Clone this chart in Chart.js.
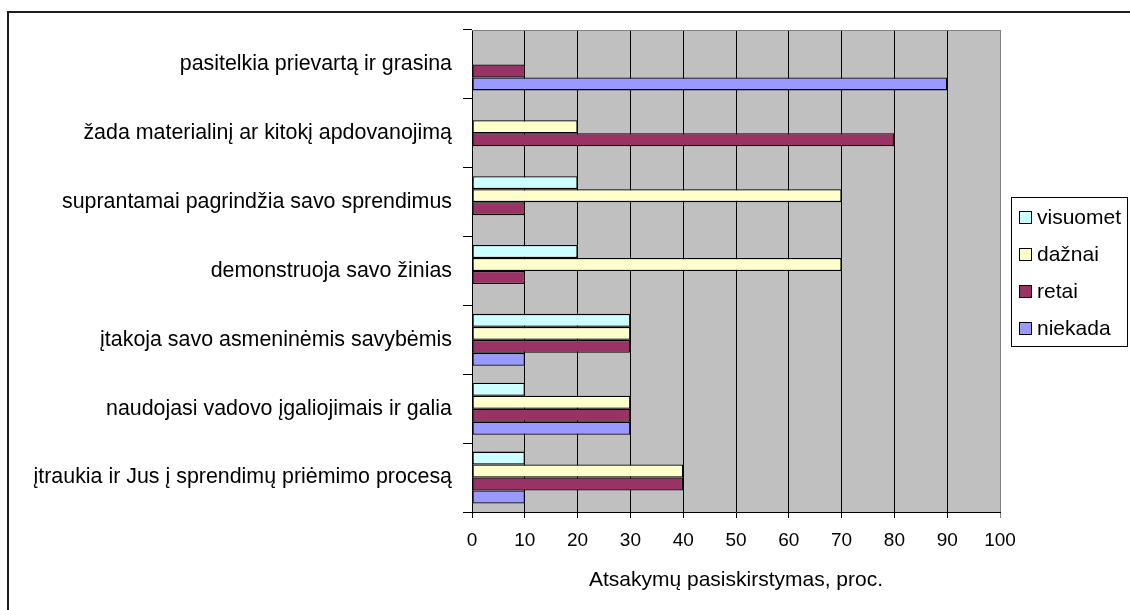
<!DOCTYPE html>
<html lang="lt">
<head>
<meta charset="utf-8">
<title>Atsakymų pasiskirstymas</title>
<script src="https://cdn.jsdelivr.net/npm/chart.js@4.4.1/dist/chart.umd.min.js"></script>
<style>
  html, body { margin: 0; padding: 0; background: #fff; overflow: hidden; }
  #wrap { position: relative; width: 1130px; height: 610px; }
  #frame {
    position: absolute; left: 7px; top: 11px;
    width: 1300px; height: 800px;
    border: 2px solid #1e1e1e;
  }
  #chart { position: absolute; left: 0; top: 0; }
</style>
</head>
<body>
<div id="wrap">
  <div id="frame"></div>
  <canvas id="chart" width="1130" height="610"></canvas>
</div>
<script>
  /* =========================
     DATA
  ========================= */
  const categories = [
    "pasitelkia prievartą ir grasina",
    "žada materialinį ar kitokį apdovanojimą",
    "suprantamai pagrindžia savo sprendimus",
    "demonstruoja savo žinias",
    "įtakoja savo asmeninėmis savybėmis",
    "naudojasi vadovo įgaliojimais ir galia",
    "įtraukia ir Jus į sprendimų priėmimo procesą"
  ];

  const visuomet = [0, 0, 20, 20, 30, 10, 10];
  const daznai   = [0, 20, 70, 70, 30, 30, 40];
  const retai    = [10, 80, 10, 10, 30, 30, 40];
  const niekada  = [90, 0, 0, 0, 10, 30, 10];

  const xTicks = [0, 10, 20, 30, 40, 50, 60, 70, 80, 90, 100];
  const axisTitle = "Atsakymų pasiskirstymas, proc.";

  /* =========================
     STYLE
  ========================= */
  const FONT = "'Liberation Sans', Arial, sans-serif";
  const SERIES = [
    { label: "visuomet", data: visuomet, color: "#CCFFFF" },
    { label: "dažnai",   data: daznai,   color: "#FFFFCC" },
    { label: "retai",    data: retai,    color: "#993366" },
    { label: "niekada",  data: niekada,  color: "#9999FF" }
  ];

  Chart.defaults.font.family = FONT;
  Chart.defaults.font.size = 21;
  Chart.defaults.color = "#000";

  // grey plot background + grey top edge
  const plotBackground = {
    id: "plotBackground",
    beforeDraw(chart) {
      const { ctx, chartArea: a } = chart;
      ctx.save();
      ctx.fillStyle = "#C0C0C0";
      ctx.fillRect(a.left, a.top, a.right - a.left, a.bottom - a.top);
      ctx.restore();
    },
    afterDraw(chart) {
      const { ctx, chartArea: a } = chart;
      ctx.save();
      ctx.strokeStyle = "#808080";
      ctx.lineWidth = 1;
      ctx.beginPath();
      ctx.moveTo(a.left, Math.round(a.top) + 0.5);
      ctx.lineTo(a.right, Math.round(a.top) + 0.5);
      ctx.stroke();
      ctx.restore();
    }
  };

  // boxed legend on the right
  const boxLegend = {
    id: "boxLegend",
    afterDraw(chart) {
      const ctx = chart.ctx;
      const box = { x: 1011, y: 197, w: 116, h: 149 };
      ctx.save();
      ctx.fillStyle = "#fff";
      ctx.fillRect(box.x, box.y, box.w, box.h);
      ctx.strokeStyle = "#000";
      ctx.lineWidth = 1;
      ctx.strokeRect(box.x + 0.5, box.y + 0.5, box.w, box.h);

      ctx.font = "21px " + FONT;
      ctx.textBaseline = "middle";
      chart.data.datasets.forEach((ds, i) => {
        const cy = 217 + i * 37;
        ctx.fillStyle = ds.backgroundColor;
        ctx.fillRect(1019, cy - 6, 12, 12);
        ctx.strokeStyle = "#000";
        ctx.strokeRect(1019.5, cy - 5.5, 12, 12);
        ctx.fillStyle = "#000";
        ctx.fillText(ds.label, 1037, cy + 1);
      });
      ctx.restore();
    }
  };

  /* =========================
     CHART
  ========================= */
  const ctx = document.getElementById("chart").getContext("2d");

  new Chart(ctx, {
    type: "bar",
    data: {
      labels: categories,
      datasets: SERIES.map(s => ({
        label: s.label,
        data: s.data,
        backgroundColor: s.color,
        borderColor: "#000",
        borderWidth: 1.3,
        borderSkipped: false,
        categoryPercentage: 0.755,
        barPercentage: 1.0
      }))
    },
    options: {
      indexAxis: "y",
      responsive: false,
      animation: false,
      devicePixelRatio: 1,
      layout: { padding: { left: 0, right: 130, top: 30, bottom: 0 } },
      plugins: {
        legend: { display: false },
        tooltip: { enabled: false }
      },
      scales: {
        x: {
          min: 0,
          max: 100,
          afterBuildTicks: scale => {
            scale.ticks = xTicks.map(v => ({ value: v }));
          },
          afterFit: scale => { scale.height = 98; },
          grid: {
            color: c => (c.tick && c.tick.value === 100 ? "#808080" : "#000"),
            lineWidth: 1,
            tickLength: 6,
            drawTicks: true
          },
          border: { color: "#000", width: 1 },
          ticks: { padding: 11, font: { size: 19 }, maxRotation: 0 },
          title: {
            display: true,
            text: axisTitle,
            font: { size: 21 },
            padding: { top: 0, bottom: 17 }
          }
        },
        y: {
          afterFit: scale => { scale.width = 472; },
          grid: {
            drawOnChartArea: false,
            drawTicks: true,
            tickLength: 9,
            offset: true,
            color: "#000"
          },
          border: { color: "#000", width: 1 },
          ticks: { padding: 11, font: { size: 21.4 }, autoSkip: false }
        }
      }
    },
    plugins: [plotBackground, boxLegend]
  });
</script>
</body>
</html>
